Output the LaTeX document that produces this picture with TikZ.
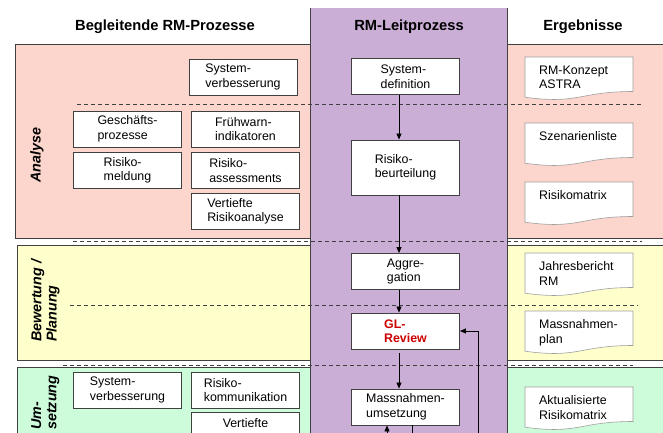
\documentclass[tikz,border=0pt]{standalone}
\usepackage{fontspec}
\setmainfont{Liberation Sans}
\usetikzlibrary{arrows.meta}
\definecolor{rmpink}{HTML}{FCD5CC}
\definecolor{rmyellow}{HTML}{FFFFCC}
\definecolor{rmgreen}{HTML}{CCFCDA}
\definecolor{rmpurple}{HTML}{CAAED6}
\definecolor{rmline}{HTML}{404040}
\definecolor{rmred}{HTML}{CC0000}
\newcommand\ergdoc[4]{%
  \filldraw[docline] (#2,#3) -- ({#2+108},#3) -- ({#2+108},{#3+34.5})
    .. controls ({#2+54},{#3+34.5}) and ({#2+54},{#3+47.6}) .. (#2,{#3+40.2}) -- cycle;
  \node[doctext, anchor=north west] (#1) at ({#2+14},{#3+8.5}) {#4};}
\begin{document}
\begin{tikzpicture}[x=1pt,y=-1pt,
  bandbox/.style={draw=rmline, line width=0.8pt},
  procbox/.style={draw=rmline, fill=white, line width=0.9pt, align=left, inner sep=0pt,
    minimum width=108pt, minimum height=36pt, font=\fontsize{12.4}{14.5}\selectfont},
  docline/.style={draw=gray!75, fill=white, line width=0.6pt},
  doctext/.style={align=left, inner sep=0pt, font=\fontsize{12.4}{14.5}\selectfont},
  hdr/.style={font=\fontsize{14.7}{16}\selectfont\bfseries, inner sep=0pt},
  phase/.style={font=\fontsize{14.3}{15.3}\selectfont\bfseries\itshape, rotate=90, align=left, inner sep=0pt},
  sep/.style={draw=rmline, line width=0.7pt, dash pattern=on 4pt off 3pt},
  arr/.style={draw=black, line width=0.8pt, -{Triangle[length=6pt,width=5pt]}},
  plain/.style={draw=black, line width=0.8pt}]
\useasboundingbox (0,0) rectangle (663,432);
\clip (0,0) rectangle (663,432);
\fill[white] (0,0) rectangle (663,432);
% bands
\filldraw[bandbox, fill=rmpink] (15,44) rectangle (690,238);
\filldraw[bandbox, fill=rmyellow] (17,245) rectangle (690,360);
\filldraw[bandbox, fill=rmgreen] (17,367) rectangle (690,470);
% lead process column
\fill[rmpurple] (310,8) rectangle (507,470);
\draw[rmline, line width=0.9pt] (310,8) -- (310,470);
\draw[rmline, line width=0.9pt] (507,8) -- (507,470);
% separators
\draw[sep] (77,104) -- (643,104);
\draw[sep] (73,241) -- (642,241);
\draw[sep] (70,305) -- (638,305);
\draw[sep] (63,365) -- (633,365);
% headers
\node[hdr] (hdrL) at (165,27) {Begleitende RM-Prozesse};
\node[hdr] (hdrM) at (409,27) {RM-Leitprozess};
\node[hdr] (hdrR) at (583,27) {Ergebnisse};
% phase labels
\node[phase] (phA) at (37,155) {Analyse};
\node[phase, anchor=west] (phB) at (45.3,342) {Bewertung /\\Planung};
\node[phase, anchor=west] (phC) at (45.3,430) {Um-\\setzung};
% accompanying processes
\node[procbox] (svA) at (243,77) {System-\\verbesserung};
\node[procbox] (gp) at (127.5,129) {Geschäfts-\\prozesse};
\node[procbox] (fw) at (245.5,129) {Frühwarn-\\indikatoren};
\node[procbox] (rmel) at (127.5,170.5) {Risiko-\\meldung};
\node[procbox] (rass) at (245.5,170.5) {Risiko-\\assessments};
\node[procbox] (vrA) at (245.5,211.5) {Vertiefte\\Risikoanalyse};
\node[procbox] (svB) at (127.5,390) {System-\\verbesserung};
\node[procbox] (rk) at (245.5,390) {Risiko-\\kommunikation};
\node[procbox] (vrB) at (245.5,430) {Vertiefte\\\mbox{}};
% lead process
\node[procbox] (sd) at (405.5,76.5) {System-\\definition};
\node[procbox, minimum height=55pt] (rb) at (405.5,167.5) {Risiko-\\beurteilung};
\node[procbox] (ag) at (405.5,271.5) {Aggre-\\gation};
\node[procbox, text=rmred, font=\fontsize{12.4}{14.5}\selectfont\bfseries] (gl) at (405.5,331) {GL-\\Review};
\node[procbox] (mu) at (405.5,407) {Massnahmen-\\umsetzung};
% results
\ergdoc{d1}{525}{57}{RM-Konzept\\ASTRA}
\ergdoc{d2}{525}{123}{Szenarienliste}
\ergdoc{d3}{525}{182}{Risikomatrix}
\ergdoc{d4}{525}{253}{Jahresbericht\\RM}
\ergdoc{d5}{525}{311}{Massnahmen-\\plan}
\ergdoc{d6}{525}{387}{Aktualisierte\\Risikomatrix}
% connectors
\draw[arr] ([xshift=-6.5pt]sd.south) -- ([xshift=-6.5pt]rb.north);
\draw[arr] ([xshift=-6.5pt]rb.south) -- ([xshift=-6.5pt]ag.north);
\draw[arr] ([xshift=-6.5pt]ag.south) -- ([xshift=-6.5pt]gl.north);
\draw[arr] ([xshift=-6.5pt,yshift=-4pt]gl.south) -- ([xshift=-6.5pt]mu.north);
\coordinate (fbIn) at (478,460);
\draw[arr] (fbIn) |- (gl.east);
\coordinate (loopIn) at (387,460);
\coordinate (loopOut) at (412,460);
\draw[arr] (loopIn) -- ([xshift=-18.5pt]mu.south);
\draw[plain] ([xshift=6.5pt]mu.south) -- (loopOut);
\end{tikzpicture}
\end{document}
